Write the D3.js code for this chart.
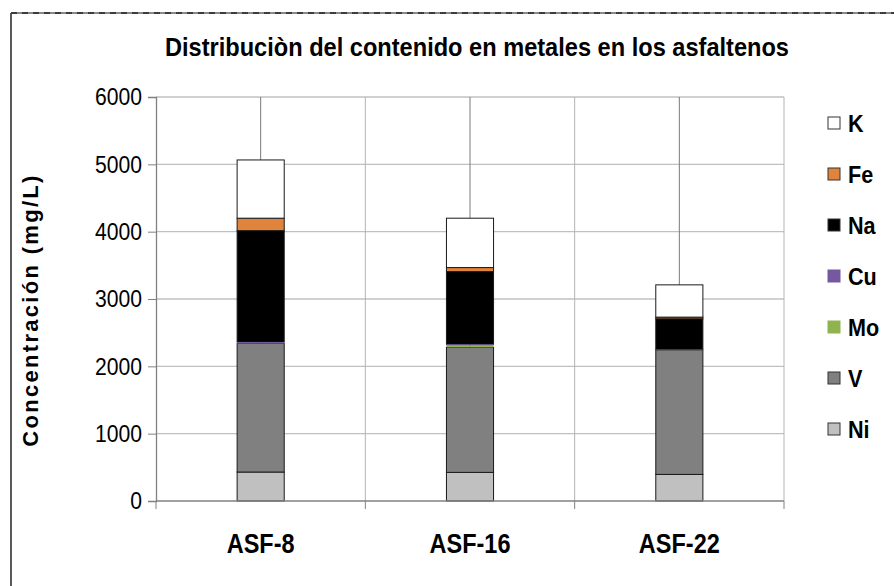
<!DOCTYPE html>
<html>
<head>
<meta charset="utf-8">
<script src="https://cdn.jsdelivr.net/npm/d3@7"></script>
<style>
  html, body { margin: 0; padding: 0; background: #fff; }
  svg { display: block; font-family: "Liberation Sans", Arial, sans-serif; }
</style>
</head>
<body>
<svg id="chart" width="894" height="586"></svg>
<script>
// Metal content of asphaltene samples (mg/L), stacked bottom to top
const samples = ["ASF-8", "ASF-16", "ASF-22"];
const metals = ["Ni", "V", "Mo", "Cu", "Na", "Fe", "K"];
const Ni = [430, 425, 395];
const V  = [1910, 1860, 1850];
const Mo = [5, 22, 3];
const Cu = [15, 20, 3];
const Na = [1655, 1080, 455];
const Fe = [185, 60, 25];
const K  = [865, 733, 479];
const yTicks = [0, 1000, 2000, 3000, 4000, 5000, 6000];
const titleText = "Distribuciòn del contenido en metales en los asfaltenos";
const yLabel = "Concentración (mg/L)";

const colors = {
  Ni: "#c0c0c0", V: "#808080", Mo: "#8fb34e", Cu: "#7558a0",
  Na: "#000000", Fe: "#e0843d", K: "#ffffff"
};
const series = { Ni, V, Mo, Cu, Na, Fe, K };

const rows = samples.map((s, i) => {
  const r = { sample: s };
  metals.forEach(m => { r[m] = series[m][i]; });
  return r;
});

const svg = d3.select("#chart");
const plot = { left: 156, right: 784, top: 97, bottom: 501 };

const x = d3.scaleBand().domain(samples).range([plot.left, plot.right]).padding(0);
const y = d3.scaleLinear().domain([0, 6000]).range([plot.bottom, plot.top]);
const barW = x.bandwidth() * 0.225;

// horizontally condensed text helper (cx in the element's own coordinates)
const squeeze = (sel, cx, k) => sel.attr("transform", `translate(${cx},0) scale(${k},1) translate(${-cx},0)`);

// chart frame: solid left edge, dashed top edge
svg.append("line").attr("x1", 11).attr("x2", 11).attr("y1", 13).attr("y2", 586)
  .attr("stroke", "#000").attr("stroke-width", 1.3);
svg.append("line").attr("x1", 11).attr("x2", 894).attr("y1", 13).attr("y2", 13)
  .attr("stroke", "#8a8a8a").attr("stroke-width", 2);
svg.append("line").attr("x1", 11).attr("x2", 894).attr("y1", 13).attr("y2", 13)
  .attr("stroke", "#3c3c3c").attr("stroke-width", 2).attr("stroke-dasharray", "6,5");

// title
svg.append("text")
  .attr("x", 165).attr("y", 56)
  .attr("textLength", 624).attr("lengthAdjust", "spacingAndGlyphs")
  .attr("font-size", 25).attr("font-weight", "bold").attr("fill", "#000")
  .text(titleText);

// horizontal gridlines
svg.append("g").selectAll("line").data(yTicks.filter(d => d > 0)).join("line")
  .attr("x1", plot.left).attr("x2", plot.right)
  .attr("y1", d => y(d)).attr("y2", d => y(d))
  .attr("stroke", "#c0c0c0").attr("stroke-width", 1.3);

// vertical gridlines at band boundaries
const bounds = samples.map(s => x(s)).concat([x.range()[1]]);
svg.append("g").selectAll("line").data(bounds.slice(1)).join("line")
  .attr("x1", d => d).attr("x2", d => d)
  .attr("y1", plot.top).attr("y2", plot.bottom)
  .attr("stroke", "#b4b4b4").attr("stroke-width", 1);

// vertical gridlines through category centres
svg.append("g").selectAll("line").data(samples).join("line")
  .attr("x1", d => x(d) + x.bandwidth() / 2).attr("x2", d => x(d) + x.bandwidth() / 2)
  .attr("y1", plot.top).attr("y2", plot.bottom)
  .attr("stroke", "#7a7a7a").attr("stroke-width", 1);

// stacked bars
const stack = d3.stack().keys(metals)(rows);
const thin = new Set(["Mo", "Cu"]);
const layers = svg.append("g").selectAll("g").data(stack).join("g")
  .attr("fill", d => colors[d.key])
  .attr("stroke", d => thin.has(d.key) ? "none" : "#1a1a1a")
  .attr("stroke-width", 1);
layers.selectAll("rect").data(d => d).join("rect")
  .attr("x", d => x(d.data.sample) + (x.bandwidth() - barW) / 2)
  .attr("width", barW)
  .attr("y", d => y(d[1]))
  .attr("height", d => y(d[0]) - y(d[1]));
layers.filter(d => thin.has(d.key)).raise();

// y axis
const yAxis = d3.axisLeft(y).tickValues(yTicks).tickSize(8).tickPadding(6).tickFormat(d3.format("d"));
const gy = svg.append("g").attr("transform", `translate(${plot.left},0)`).call(yAxis);
gy.select(".domain").attr("stroke", "#808080").attr("stroke-width", 1.3);
gy.selectAll(".tick line").attr("stroke", "#808080");
gy.selectAll(".tick text").attr("font-size", 23).attr("fill", "#000")
  .attr("font-family", "'Liberation Sans', Arial, sans-serif")
  .attr("dy", "0.34em")
  .each(function () { squeeze(d3.select(this), -14, 0.92); });

// x axis line with ticks at band boundaries
svg.append("line").attr("x1", plot.left).attr("x2", plot.right)
  .attr("y1", plot.bottom).attr("y2", plot.bottom)
  .attr("stroke", "#808080").attr("stroke-width", 1.3);
svg.append("g").selectAll("line").data(bounds).join("line")
  .attr("x1", d => d).attr("x2", d => d)
  .attr("y1", plot.bottom).attr("y2", plot.bottom + 8)
  .attr("stroke", "#808080").attr("stroke-width", 1);

// category labels
svg.append("g").selectAll("text").data(samples).join("text")
  .attr("x", d => x(d) + x.bandwidth() / 2)
  .attr("y", 553)
  .attr("text-anchor", "middle")
  .attr("font-size", 28).attr("font-weight", "bold")
  .each(function (d) { squeeze(d3.select(this), x(d) + x.bandwidth() / 2, 0.84); })
  .text(d => d);

// y axis title
svg.append("text")
  .attr("transform", "translate(38,310) rotate(-90)")
  .attr("text-anchor", "middle")
  .attr("font-size", 22).attr("font-weight", "bold").attr("letter-spacing", 2.3)
  .text(yLabel);

// legend (top to bottom: K ... Ni)
const legendKeys = metals.slice().reverse();
const lg = svg.append("g").selectAll("g").data(legendKeys).join("g")
  .attr("transform", (d, i) => `translate(828,${123 + i * 51})`);
lg.append("rect")
  .attr("x", 0).attr("y", -6).attr("width", 12).attr("height", 12)
  .attr("fill", d => colors[d])
  .attr("stroke", d => (d === "Mo" || d === "Cu") ? colors[d] : "#333")
  .attr("stroke-width", 1);
lg.append("text")
  .attr("x", 20).attr("y", 9)
  .attr("font-size", 24).attr("font-weight", "bold")
  .each(function () { squeeze(d3.select(this), 20, 0.9); })
  .text(d => d);
</script>
</body>
</html>
